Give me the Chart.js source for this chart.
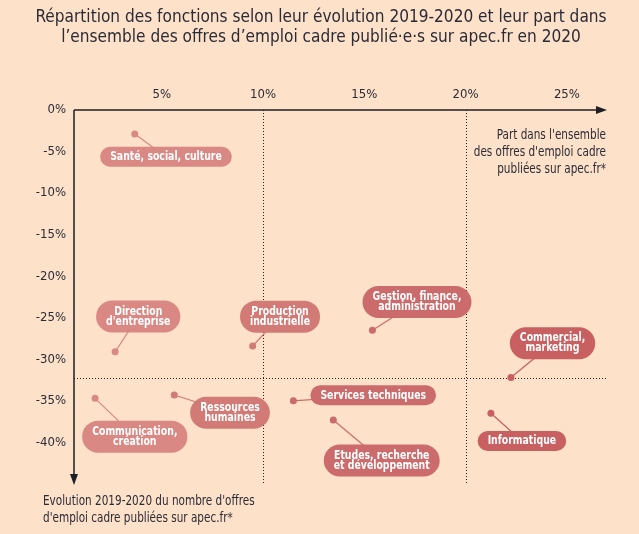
<!DOCTYPE html>
<html><head><meta charset="utf-8">
<script src="https://cdn.jsdelivr.net/npm/chart.js@4.4.1/dist/chart.umd.min.js"></script>
<style>html,body{margin:0;padding:0;background:#fde1c8;}#wrap{width:639px;height:534px;position:relative;}</style>
</head><body><div id="wrap"><canvas id="c" width="639" height="534" style="width:639px;height:534px"></canvas></div>
<script>
// ---- data ----
const categories = ["Santé, social, culture","Direction\nd'entreprise","Production\nindustrielle","Gestion, finance,\nadministration","Commercial,\nmarketing","Communication,\ncréation","Ressources\nhumaines","Services techniques","Etudes, recherche\net développement","Informatique"];
const shareValues = [3.67, 2.70, 9.49, 15.40, 22.24, 1.71, 5.62, 11.50, 13.47, 21.25];
const evolutionValues = [-2.9, -29.1, -28.4, -26.5, -32.2, -34.7, -34.3, -35.0, -37.3, -36.5];
const xTickValues = [5, 10, 15, 20, 25];
const yTickValues = [0, -5, -10, -15, -20, -25, -30, -35, -40];
const xRefLines = [10, 20];
const yRefLine = -32.3;
// label anchor positions (data units)
const labelX = [5.21, 3.84, 10.84, 17.60, 24.29, 3.67, 8.37, 15.44, 15.86, 22.78];
const labelY = [-5.62, -24.85, -24.87, -23.10, -28.07, -39.31, -36.44, -34.33, -42.18, -39.83];

const titleLines = ["Répartition des fonctions selon leur évolution 2019-2020 et leur part dans","l’ensemble des offres d’emploi cadre publié·e·s sur apec.fr en 2020"];
const xTitleLines = ["Part dans l'ensemble","des offres d'emploi cadre","publiées sur apec.fr*"];
const yTitleLines = ["Evolution 2019-2020 du nombre d'offres","d'emploi cadre publiées sur apec.fr*"];

function colorFor(share){
  if (share >= 20) return '#c85f60';
  if (share >= 11) return '#cc6b6b';
  if (share >= 5) return '#d27b76';
  return '#d98884';
}
const pointColors = shareValues.map(colorFor);

const FONT = "'DejaVu Sans Condensed', 'Liberation Sans Narrow', sans-serif";
const TXT = '#2b2b38';
const SX = 0.83;

function sText(ctx, text, x, y, sx){
  ctx.save(); ctx.translate(x, y); ctx.scale(sx, 1); ctx.fillText(text, 0, 0); ctx.restore();
}

const decor = {
  id: 'decor',
  beforeDatasetsDraw(chart){
    const {ctx, chartArea:a, scales:{x, y}} = chart;
    ctx.save();
    ctx.strokeStyle = '#222'; ctx.lineWidth = 1; ctx.setLineDash([1, 2]);
    xRefLines.forEach(v => { const px = Math.round(x.getPixelForValue(v)) + 0.5; ctx.beginPath(); ctx.moveTo(px, a.top); ctx.lineTo(px, a.bottom); ctx.stroke(); });
    const py = Math.round(y.getPixelForValue(yRefLine)) + 0.5;
    ctx.beginPath(); ctx.moveTo(a.left, py); ctx.lineTo(a.right, py); ctx.stroke();
    ctx.setLineDash([]);
    ctx.strokeStyle = '#1e1e24'; ctx.lineWidth = 1.5;
    ctx.beginPath(); ctx.moveTo(a.left, a.top); ctx.lineTo(a.right - 8, a.top); ctx.stroke();
    ctx.beginPath(); ctx.moveTo(a.left, a.top); ctx.lineTo(a.left, a.bottom - 8); ctx.stroke();
    ctx.fillStyle = '#1e1e24';
    ctx.beginPath(); ctx.moveTo(a.right, a.top); ctx.lineTo(a.right - 11, a.top - 4); ctx.lineTo(a.right - 11, a.top + 4); ctx.closePath(); ctx.fill();
    ctx.beginPath(); ctx.moveTo(a.left, a.bottom); ctx.lineTo(a.left - 4, a.bottom - 11); ctx.lineTo(a.left + 4, a.bottom - 11); ctx.closePath(); ctx.fill();
    ctx.lineWidth = 1.2;
    shareValues.forEach((s, i) => {
      ctx.strokeStyle = pointColors[i];
      ctx.beginPath();
      ctx.moveTo(x.getPixelForValue(s), y.getPixelForValue(evolutionValues[i]));
      ctx.lineTo(x.getPixelForValue(labelX[i]), y.getPixelForValue(labelY[i]));
      ctx.stroke();
    });
    ctx.restore();
  },
  afterDatasetsDraw(chart){
    const {ctx, scales:{x, y}} = chart;
    ctx.save();
    ctx.font = "bold 12.5px " + FONT;
    ctx.textAlign = 'center'; ctx.textBaseline = 'middle';
    categories.forEach((c, i) => {
      const lines = c.split('\n');
      const cx = x.getPixelForValue(labelX[i]), cy = y.getPixelForValue(labelY[i]);
      const w = Math.max(...lines.map(l => ctx.measureText(l).width)) * SX + 20;
      const h = lines.length === 1 ? 20 : 32;
      ctx.fillStyle = pointColors[i];
      ctx.beginPath();
      ctx.roundRect(cx - w / 2, cy - h / 2, w, h, h / 2);
      ctx.fill();
      ctx.fillStyle = '#ffffff';
      const lh = 10;
      lines.forEach((l, k) => sText(ctx, l, cx, cy + (k - (lines.length - 1) / 2) * lh, SX));
    });
    ctx.restore();
  },
  afterDraw(chart){
    const {ctx} = chart;
    ctx.save();
    ctx.fillStyle = TXT; ctx.textBaseline = 'middle';
    ctx.font = "18px " + FONT; ctx.textAlign = 'center';
    titleLines.forEach((l, k) => sText(ctx, l, 321, 17 + k * 20, 0.95));
    ctx.font = "14px " + FONT; ctx.textAlign = 'right';
    xTitleLines.forEach((l, k) => sText(ctx, l, 606, 135 + k * 17, SX));
    ctx.textAlign = 'left';
    yTitleLines.forEach((l, k) => sText(ctx, l, 43, 501 + k * 17.5, SX));
    ctx.restore();
  }
};

new Chart(document.getElementById('c'), {
  type: 'scatter',
  data: { datasets: [{ data: shareValues.map((s, i) => ({x: s, y: evolutionValues[i]})), pointRadius: 3.5, pointHoverRadius: 3.5, pointBackgroundColor: pointColors, pointBorderWidth: 0 }] },
  options: {
    responsive: false, animation: false, devicePixelRatio: 1,
    layout: { padding: { top: 80, left: 14, right: 32, bottom: 49 } },
    plugins: { legend: { display: false }, tooltip: { enabled: false }, title: { display: false } },
    scales: {
      x: { type: 'linear', position: 'top', min: 0.67, max: 26.98,
        grid: { display: false, drawTicks: false }, border: { display: false },
        afterBuildTicks: s => { s.ticks = xTickValues.map(v => ({value: v})); },
        afterFit: s => { s.height = 30; },
        ticks: { padding: 8, color: TXT, font: { family: FONT, size: 13 }, callback: v => v + '%' } },
      y: { type: 'linear', min: -45.13, max: 0,
        grid: { display: false, drawTicks: false }, border: { display: false },
        afterBuildTicks: s => { s.ticks = yTickValues.map(v => ({value: v})); },
        afterFit: s => { s.width = 60; },
        ticks: { padding: 8, color: TXT, font: { family: FONT, size: 13 }, callback: v => v + '%' } }
    }
  },
  plugins: [decor]
});
</script></body></html>
